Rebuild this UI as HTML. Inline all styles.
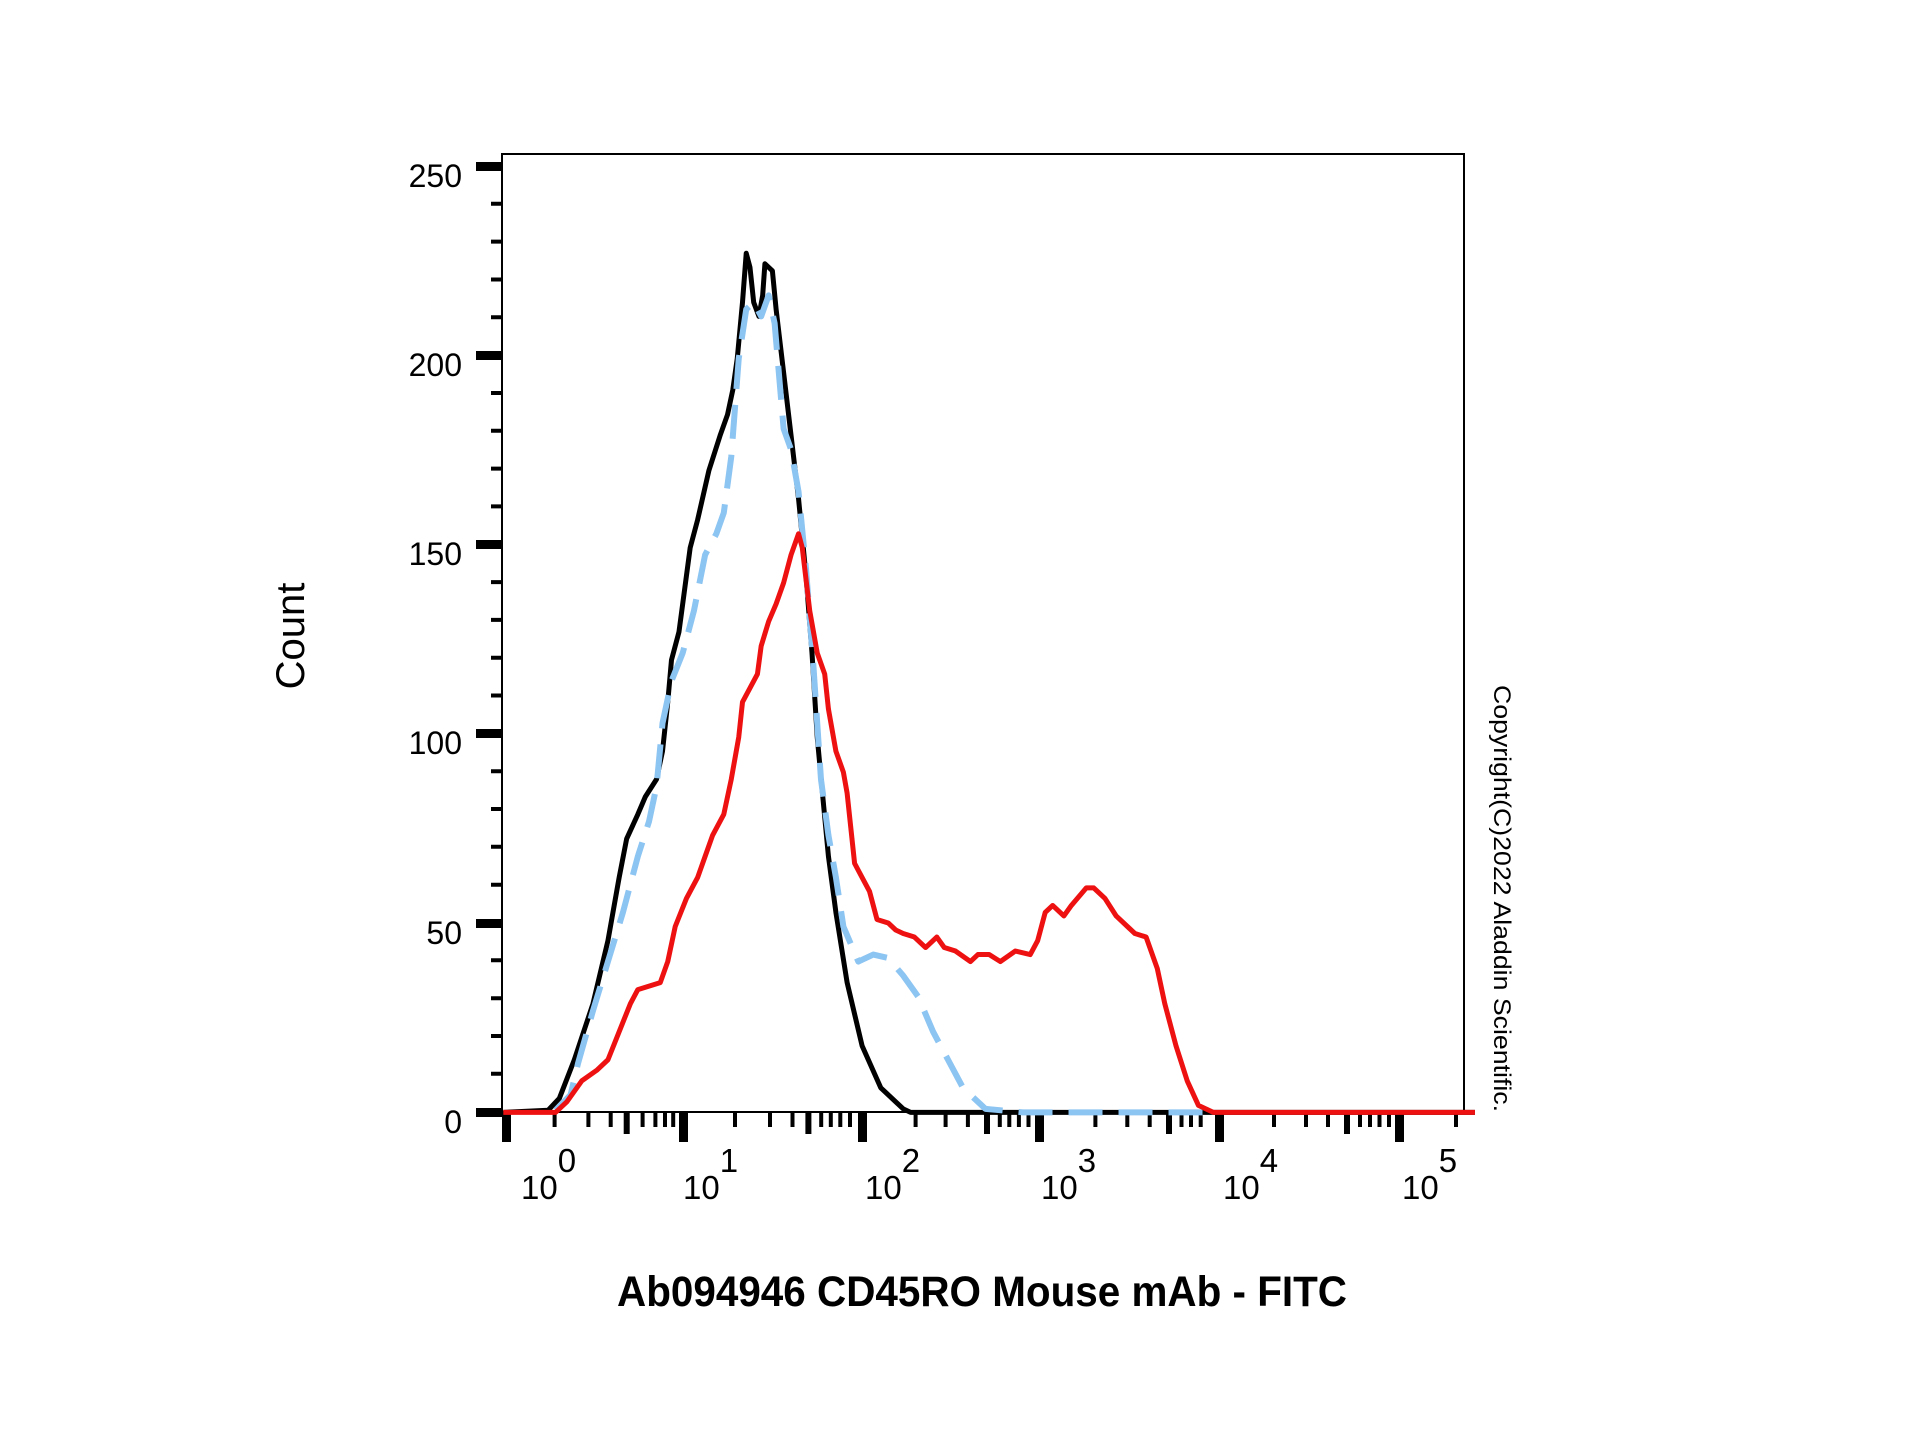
<!DOCTYPE html>
<html><head><meta charset="utf-8"><style>html,body{margin:0;padding:0;background:#fff}svg{display:block}</style></head>
<body>
<svg width="1920" height="1440" viewBox="0 0 1920 1440" xmlns="http://www.w3.org/2000/svg" font-family="Liberation Sans, Arial, sans-serif">
<rect width="1920" height="1440" fill="#fff"/>
<rect x="502" y="154" width="962" height="958" fill="none" stroke="#000" stroke-width="2"/>
<g fill="#000">
<rect x="476" y="162" width="26" height="9"/>
<rect x="476" y="351" width="26" height="9"/>
<rect x="476" y="540" width="26" height="9"/>
<rect x="476" y="729" width="26" height="9"/>
<rect x="476" y="919" width="26" height="9"/>
<rect x="476" y="1108" width="26" height="9"/>
</g>
<g stroke="#000" stroke-width="4">
<path d="M491 203.8H502M491 241.6H502M491 279.5H502M491 317.3H502M491 393H502M491 430.8H502M491 468.6H502M491 506.4H502M491 582.1H502M491 619.9H502M491 657.7H502M491 695.5H502M491 771.2H502M491 809H502M491 846.8H502M491 884.7H502M491 960.3H502M491 998.2H502M491 1036H502M491 1073.8H502"/>
</g>
<g font-size="32" text-anchor="end" fill="#000">
<text x="462" y="187">250</text>
<text x="462" y="376">200</text>
<text x="462" y="565">150</text>
<text x="462" y="754">100</text>
<text x="462" y="944">50</text>
<text x="462" y="1133">0</text>
</g>
<g fill="#000">
<rect x="502" y="1112" width="9" height="30"/>
<rect x="679" y="1112" width="9" height="30"/>
<rect x="858" y="1112" width="9" height="30"/>
<rect x="1035" y="1112" width="9" height="30"/>
<rect x="1215" y="1112" width="9" height="30"/>
<rect x="1395" y="1112" width="9" height="30"/>
</g>
<g stroke="#000" stroke-width="6">
<path d="M626.7 1112V1134M808.4 1112V1134M987 1112V1134M1169 1112V1134M1347 1112V1134"/>
</g>
<g stroke="#000" stroke-width="4">
<path d="M554.6 1112V1127M588.4 1112V1127M610.7 1112V1127M642.6 1112V1127M655.4 1112V1127M665 1112V1127M673.2 1112V1127
M735 1112V1127M770 1112V1127M792.5 1112V1127M821.2 1112V1127M830.8 1112V1127M840.3 1112V1127M850 1112V1127
M915.6 1112V1127M945.6 1112V1127M967.9 1112V1127M999.8 1112V1127M1009.3 1112V1127M1018.9 1112V1127M1028.5 1112V1127
M1095.4 1112V1127M1127.3 1112V1127M1149.7 1112V1127M1181.5 1112V1127M1191 1112V1127M1200.7 1112V1127
M1274 1112V1127M1306 1112V1127M1328 1112V1127M1360 1112V1127M1370 1112V1127M1379.5 1112V1127M1389 1112V1127M1456 1112V1127"/>
</g>
<g font-size="33" fill="#000">
<text x="521" y="1199">10<tspan dy="-27">0</tspan></text>
<text x="683" y="1199">10<tspan dy="-27">1</tspan></text>
<text x="865" y="1199">10<tspan dy="-27">2</tspan></text>
<text x="1041" y="1199">10<tspan dy="-27">3</tspan></text>
<text x="1223" y="1199">10<tspan dy="-27">4</tspan></text>
<text x="1402" y="1199">10<tspan dy="-27">5</tspan></text>
</g>
<g transform="translate(380,120) scale(0.7474,0.7013)" fill="none" stroke-linejoin="round">
<polyline vector-effect="non-scaling-stroke" stroke="#000" stroke-width="5" points="165,1415 225,1412 240,1395 260,1340 285,1260 305,1170 320,1080 330,1025 345,990 355,965 370,940 378,900 385,830 390,770 400,730 410,650 415,610 425,570 440,500 455,450 465,420 472,385 478,340 485,260 490,190 495,210 500,260 507,280 512,250 515,205 525,215 530,270 540,360 550,450 560,540 570,650 578,760 585,880 592,960 600,1050 610,1130 625,1230 645,1320 670,1380 700,1410 710,1415 1465,1415"/>
<polyline vector-effect="non-scaling-stroke" stroke="#8cc4f2" stroke-width="6" stroke-dasharray="34,16" points="235,1412 255,1390 265,1345 285,1270 305,1200 325,1130 345,1050 360,1000 370,950 378,860 390,800 405,760 420,700 435,620 450,590 460,560 470,480 480,340 490,270 500,260 510,280 520,250 528,290 540,440 550,470 560,530 570,640 580,780 590,940 600,1020 610,1080 620,1150 640,1200 660,1190 680,1195 700,1220 720,1250 740,1300 760,1340 780,1380 800,1400 810,1410 860,1415 1110,1415"/>
<polyline vector-effect="non-scaling-stroke" stroke="#ee1111" stroke-width="5" points="165,1415 235,1415 250,1400 270,1370 290,1355 305,1340 320,1300 335,1260 345,1240 360,1235 375,1230 385,1200 395,1150 410,1110 425,1080 435,1050 445,1020 460,990 470,940 480,880 485,830 495,810 505,790 510,750 520,715 530,690 540,660 550,620 560,590 565,610 575,700 585,760 595,790 600,840 610,900 620,930 625,960 635,1060 645,1080 655,1100 665,1140 680,1145 690,1155 700,1160 715,1165 730,1180 745,1165 755,1180 770,1185 790,1200 800,1190 815,1190 830,1200 850,1185 870,1190 880,1170 890,1130 900,1120 915,1135 925,1120 945,1095 955,1095 970,1110 985,1135 1000,1150 1010,1160 1025,1165 1040,1210 1050,1260 1065,1320 1080,1370 1095,1405 1115,1415 1465,1415"/>
</g>
<text transform="translate(304,636) rotate(-90)" font-size="40" text-anchor="middle" fill="#000">Count</text>
<text x="617" y="1306" font-size="43" font-weight="bold" fill="#000" textLength="730" lengthAdjust="spacingAndGlyphs">Ab094946 CD45RO Mouse mAb - FITC</text>
<text transform="translate(1494,685) rotate(90)" font-size="24" fill="#000" textLength="427" lengthAdjust="spacingAndGlyphs">Copyright(C)2022 Aladdin Scientific.</text>
</svg>
</body></html>
